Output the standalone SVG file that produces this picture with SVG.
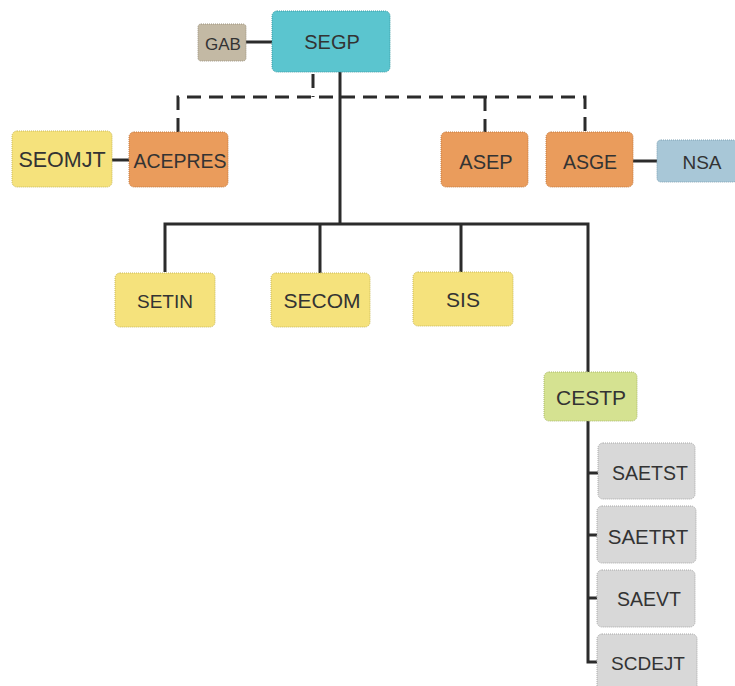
<svg xmlns="http://www.w3.org/2000/svg" width="735" height="686" viewBox="0 0 735 686">
<style>
.n{stroke-width:1;stroke-dasharray:1 1}
.t{font-family:"Liberation Sans",Arial,sans-serif;fill:#333;text-anchor:middle;dominant-baseline:central}
.c{fill:none;stroke:#2b2b2b;stroke-width:3}
.d{fill:none;stroke:#2b2b2b;stroke-width:3;stroke-dasharray:14 8}
.y{fill:#f5e27c;stroke:#c9b85a}
.o{fill:#ea9c5c;stroke:#c27a40}
.g{fill:#d8d8d8;stroke:#a8a8a8}
</style>
<rect width="735" height="686" fill="#fff"/>
<g id="connectors">
<path class="c" d="M246 42H272"/>
<path class="c" d="M340 72V224"/>
<path class="d" d="M313 74V97"/>
<path class="d" d="M178 132V97H585V132"/>
<path class="d" d="M485 97V132"/>
<path class="c" d="M112 160H129"/>
<path class="c" d="M633 161H657"/>
<path class="c" d="M165 272V224H588V372"/>
<path class="c" d="M320 224V273"/>
<path class="c" d="M461 224V272"/>
<path class="c" d="M588 421V662H598"/>
<path class="c" d="M588 473H598M588 535H598M588 598H598"/>
</g>
<g id="GAB"><rect class="n" x="198" y="24" width="48" height="37" rx="3" fill="#c3b9a4" stroke="#9d9480"/><text class="t" x="223" y="44" font-size="17">GAB</text></g>
<g id="SEGP"><rect class="n" x="272" y="11" width="118" height="61" rx="5" fill="#5bc5cf" stroke="#3a9aa3"/><text class="t" x="332" y="42" font-size="20">SEGP</text></g>
<g id="SEOMJT"><rect class="n y" x="12" y="131" width="100" height="56" rx="5"/><text class="t" x="62" y="160" font-size="21.5">SEOMJT</text></g>
<g id="ACEPRES"><rect class="n o" x="129" y="132" width="99" height="55" rx="5"/><text class="t" x="180" y="161" font-size="19.5">ACEPRES</text></g>
<g id="ASEP"><rect class="n o" x="441" y="132" width="87" height="55" rx="5"/><text class="t" x="486" y="162" font-size="20">ASEP</text></g>
<g id="ASGE"><rect class="n o" x="546" y="132" width="87" height="55" rx="5"/><text class="t" x="590" y="162" font-size="19.5">ASGE</text></g>
<g id="NSA"><rect class="n" x="657" y="140" width="80" height="42" rx="4" fill="#a8c7d7" stroke="#7fa2b4"/><text class="t" x="702" y="162" font-size="19">NSA</text></g>
<g id="SETIN"><rect class="n y" x="115" y="273" width="100" height="54" rx="5"/><text class="t" x="165" y="301" font-size="19">SETIN</text></g>
<g id="SECOM"><rect class="n y" x="271" y="273" width="99" height="54" rx="5"/><text class="t" x="322" y="300" font-size="21">SECOM</text></g>
<g id="SIS"><rect class="n y" x="413" y="272" width="100" height="54" rx="5"/><text class="t" x="463" y="299" font-size="21">SIS</text></g>
<g id="CESTP"><rect class="n" x="544" y="372" width="93" height="49" rx="5" fill="#d5e291" stroke="#aab86a"/><text class="t" x="591" y="397" font-size="21">CESTP</text></g>
<g id="SAETST"><rect class="n g" x="598" y="443" width="97" height="56" rx="5"/><text class="t" x="650" y="473" font-size="19.5">SAETST</text></g>
<g id="SAETRT"><rect class="n g" x="597" y="506" width="99" height="57" rx="5"/><text class="t" x="648" y="536" font-size="20.5">SAETRT</text></g>
<g id="SAEVT"><rect class="n g" x="597" y="570" width="98" height="57" rx="5"/><text class="t" x="649" y="599" font-size="19.5">SAEVT</text></g>
<g id="SCDEJT"><rect class="n g" x="597" y="634" width="100" height="60" rx="5"/><text class="t" x="648" y="663" font-size="19">SCDEJT</text></g>
</svg>
